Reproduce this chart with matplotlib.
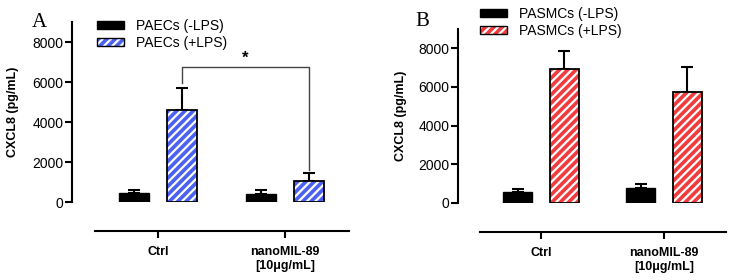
import matplotlib
matplotlib.use('Agg')
import matplotlib.pyplot as plt
from matplotlib.patches import Patch

plt.rcParams['font.family'] = ['Liberation Sans', 'DejaVu Sans']
plt.rcParams['hatch.linewidth'] = 1.6

# data
groups = ['Ctrl', 'nanoMIL-89\n[10μg/mL]']

paec_minus = [430, 400]
paec_minus_err = [170, 200]
paec_plus = [4600, 1050]
paec_plus_err = [1100, 400]

pasmc_minus = [580, 770]
pasmc_minus_err = [140, 200]
pasmc_plus = [6920, 5740]
pasmc_plus_err = [930, 1290]

sig_left, sig_right, sig_top = 5950, 1600, 6750

blue = '#4b62f0'
red = '#f23b3d'
HATCH = '////'

W, H = 732, 280
fig = plt.figure(figsize=(W / 100, H / 100), dpi=100)


def px_axes(left, top, right, bottom):
    return fig.add_axes([left / W, 1 - bottom / H, (right - left) / W, (bottom - top) / H])


def panel(ax, minus, minus_err, plus, plus_err, color, g0, spacing, left, right):
    xs = [0, 1]
    off = 0.19
    width = 0.24
    xm = [x - off for x in xs]
    xp = [x + off for x in xs]
    ax.bar(xm, minus, width, color='black', edgecolor='black', linewidth=1, zorder=2)
    ax.errorbar(xm, minus, yerr=[[0, 0], minus_err], fmt='none', ecolor='black',
                elinewidth=1.5, capsize=4, capthick=1.5, zorder=1)
    ax.bar(xp, plus, width, color=color, edgecolor='white', hatch=HATCH, linewidth=0, zorder=2)
    ax.bar(xp, plus, width, fill=False, edgecolor='black', linewidth=1.3, zorder=3)
    ax.errorbar(xp, plus, yerr=[[0, 0], plus_err], fmt='none', ecolor='black',
                elinewidth=1.5, capsize=4, capthick=1.5, zorder=1)

    ax.set_xlim((left - g0) / spacing, (right - g0) / spacing)
    ax.set_ylim(0, 9000)
    ax.set_yticks([0, 2000, 4000, 6000, 8000])
    ax.spines['top'].set_visible(False)
    ax.spines['right'].set_visible(False)
    ax.spines['left'].set_linewidth(1.5)
    ax.spines['bottom'].set_linewidth(1.5)
    ax.spines['bottom'].set_position(('outward', 21))
    ax.spines['bottom'].set_bounds(-0.5, 1.5)
    ax.tick_params(axis='y', length=5, width=1.5, pad=1, labelsize=10)
    ax.tick_params(axis='x', length=5, width=1.5, pad=6)
    ax.set_xticks(xs)
    ax.set_xticklabels(groups)
    for lab in ax.get_xticklabels():
        lab.set_fontweight('bold')
        lab.set_fontsize(9)
    ax.patch.set_alpha(0)

    handles = [Patch(facecolor='black', edgecolor='black'),
               (Patch(facecolor=color, edgecolor='white', hatch=HATCH, linewidth=0),
                Patch(fill=False, edgecolor='black', linewidth=1))]
    return handles


axA = px_axes(72, 22, 355, 202)
hA = panel(axA, paec_minus, paec_minus_err, paec_plus, paec_plus_err, blue,
           158, 127, 72, 355)
axA.legend(hA, ['PAECs (-LPS)', 'PAECs (+LPS)'], loc='upper left',
           bbox_to_anchor=(97 / W, 1 - 19 / H), bbox_transform=fig.transFigure,
           frameon=False, borderpad=0, borderaxespad=0, handlelength=1.95,
           handleheight=0.55, handletextpad=0.85, labelspacing=0.2, fontsize=10)

# significance bracket
axA.plot([0.19, 0.19, 1.19, 1.19], [sig_left, sig_top, sig_top, sig_right],
         color='#444444', linewidth=1, zorder=4)
axA.text(0.69, sig_top + 60, '*', ha='center', va='bottom', fontsize=12, fontweight='bold')

axB = px_axes(458, 29, 730, 203)
hB = panel(axB, pasmc_minus, pasmc_minus_err, pasmc_plus, pasmc_plus_err, red,
           541, 123, 458, 730)
axB.legend(hB, ['PASMCs (-LPS)', 'PASMCs (+LPS)'], loc='upper left',
           bbox_to_anchor=(480 / W, 1 - 7 / H), bbox_transform=fig.transFigure,
           frameon=False, borderpad=0, borderaxespad=0, handlelength=1.95,
           handleheight=0.55, handletextpad=0.85, labelspacing=0.2, fontsize=10)

fig.text(13 / W, 1 - 112 / H, 'CXCL8 (pg/mL)', rotation=90, ha='center', va='center',
         fontsize=9, fontweight='bold')
fig.text(401 / W, 1 - 116 / H, 'CXCL8 (pg/mL)', rotation=90, ha='center', va='center',
         fontsize=9, fontweight='bold')

fig.text(32 / W, 1 - 27 / H, 'A', family='Liberation Serif', fontsize=15)
fig.text(415 / W, 1 - 26 / H, 'B', family='Liberation Serif', fontsize=15)

fig.savefig('out.png', dpi=100)
